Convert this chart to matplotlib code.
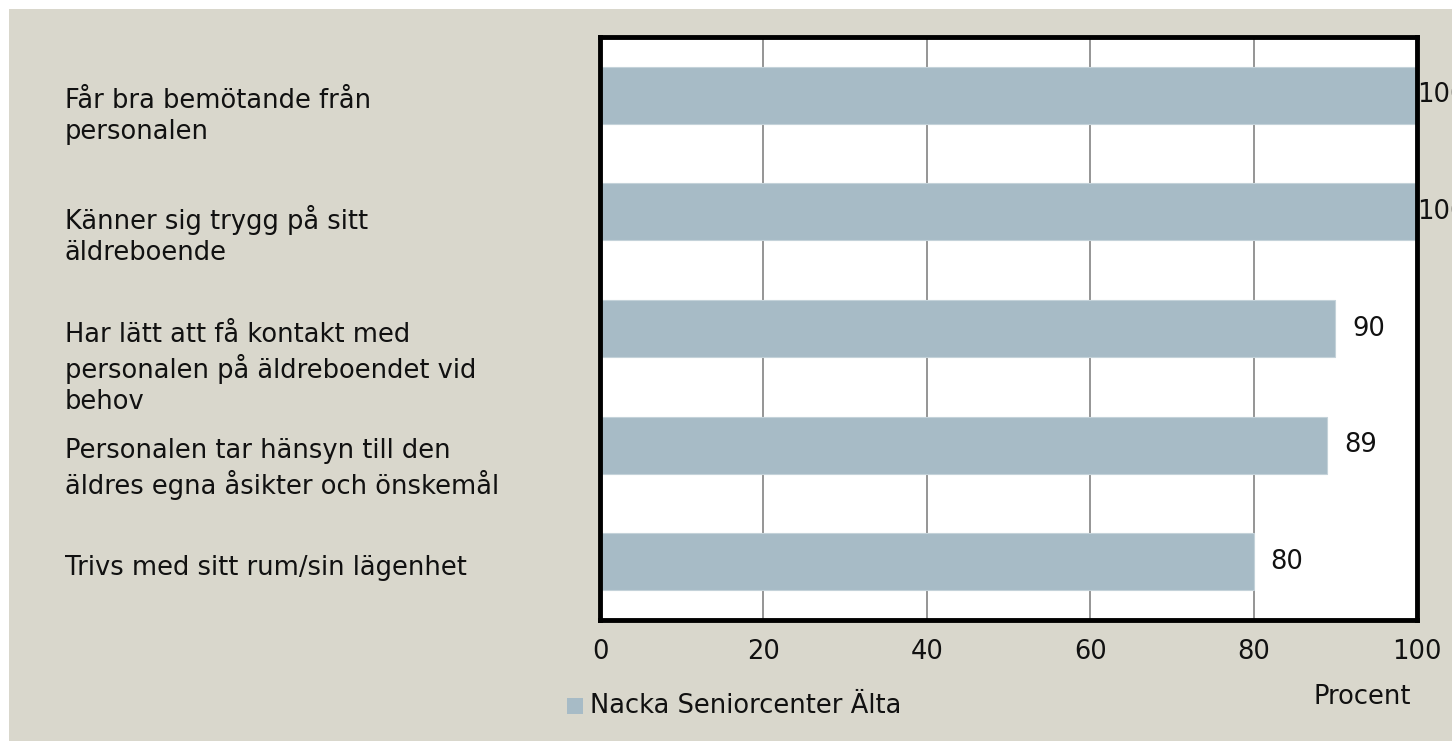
import matplotlib.pyplot as plt
from matplotlib.patches import Rectangle

# data
categories = [
    "Får bra bemötande från\npersonalen",
    "Känner sig trygg på sitt\näldreboende",
    "Har lätt att få kontakt med\npersonalen på äldreboendet vid\nbehov",
    "Personalen tar hänsyn till den\näldres egna åsikter och önskemål",
    "Trivs med sitt rum/sin lägenhet",
]
values = [100, 100, 90, 89, 80]
xticks = [0, 20, 40, 60, 80, 100]
series_name = "Nacka Seniorcenter Älta"

bar_color = "#a7bbc6"
bg = "#d9d7cc"
font = "DejaVu Sans"
fs = 18.5

fig = plt.figure(figsize=(14.52, 7.41), dpi=100)
fig.patch.set_facecolor("white")
# beige panel behind everything, white strip at the top/left edge
fig.patches.append(Rectangle((9 / 1452, 0), 1, 1 - 9 / 741,
                             transform=fig.transFigure, facecolor=bg,
                             edgecolor="none", zorder=-10))

ax = fig.add_axes([600 / 1452, 1 - 620 / 741, 817 / 1452, 583 / 741])
ax.set_facecolor("white")

y = list(range(len(categories)))
ax.barh(y, values, height=0.49, color=bar_color, edgecolor="#c4d2d9",
        linewidth=0.8, zorder=2)
ax.set_xlim(0, 100)
ax.set_ylim(len(categories) - 0.5, -0.5)

ax.set_xticks(xticks)
ax.set_xticklabels([str(t) for t in xticks], fontsize=fs, family=font,
                   color="#111111")
ax.tick_params(axis="x", length=0, pad=14)
ax.set_yticks([])
ax.grid(axis="x", color="#8c8c8c", linewidth=1.3, zorder=1)

for s in ax.spines.values():
    s.set_linewidth(3.5)
    s.set_color("black")

# value labels
for i, v in enumerate(values):
    off = 0 if v >= 100 else 17
    ax.annotate(str(v), (v, i), xytext=(off, 0), textcoords="offset pixels",
                va="center", ha="left", fontsize=fs, family=font,
                color="#111111", annotation_clip=False, zorder=3)

# category labels, left-aligned in the beige margin
for i, c in enumerate(categories):
    ax.annotate(c, (65 / 1452, i), xycoords=("figure fraction", "data"),
                xytext=(0, 7), textcoords="offset pixels",
                va="top", ha="left", fontsize=fs, family=font,
                color="#111111", linespacing=1.25, annotation_clip=False)

# legend and axis title
fig.patches.append(Rectangle((567 / 1452, 1 - 714 / 741), 16 / 1452, 16 / 741,
                             transform=fig.transFigure, facecolor=bar_color,
                             edgecolor="none"))
fig.text(590 / 1452, 1 - 706 / 741, series_name, fontsize=fs, family=font,
         color="#111111", va="center", ha="left")
fig.text(1362 / 1452, 1 - 697 / 741, "Procent", fontsize=fs, family=font,
         color="#111111", va="center", ha="center")

fig.savefig("out.png", dpi=100, facecolor=fig.get_facecolor())
